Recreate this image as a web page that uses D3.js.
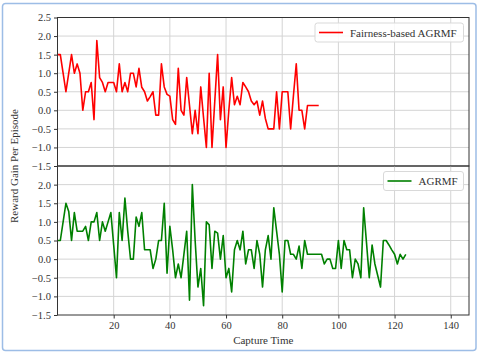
<!DOCTYPE html>
<html>
<head>
<meta charset="utf-8">
<script src="https://cdn.jsdelivr.net/npm/d3@7"></script>
<style>
body { margin: 0; background: #fff; }
svg { display: block; }
text { font-family: "Liberation Serif", "Times New Roman", serif; }
</style>
</head>
<body>
<svg></svg>
<script>
// series values (one point per capture)
var fairnessAgrmf = [1.5, 1.5, 1.0, 0.5, 1.0, 1.5, 1.0, 1.25, 1.0, 0.0,
    0.5, 0.5, 0.75, -0.25, 1.88, 0.88, 0.75, 0.5, 0.75, 0.75,
    0.75, 0.5, 1.25, 0.5, 0.75, 0.5, 1.0, 1.0, 0.63, 1.13,
    0.62, 0.5, 0.25, 0.37, 0.5, -0.13, -0.13, 1.25, 0.63, 0.43,
    0.38, -0.25, -0.38, 1.13, 0.0, -0.13, 0.88, 0.13, -0.63, 0.0,
    -0.63, 0.63, -0.2, -1.0, 1.0, -1.0, 0.25, 1.5, -0.25, 0.63,
    -1.0, 0.0, 0.88, 0.15, 0.38, 0.15, 0.75, 0.63, 0.5, 0.25,
    0.15, 0.25, -0.13, 0.25, -0.22, -0.5, -0.5, -0.5, 0.5, -0.5,
    0.5, 0.5, 0.5, -0.5, 0.4, 1.25, 0.0, 0.0, -0.5, 0.13,
    0.13, 0.13, 0.13, 0.13];

var agrmf = [0.5, 0.5, 1.0, 1.5, 1.28, 0.5, 1.25, 0.75, 0.75, 0.75,
    0.88, 0.5, 1.0, 1.0, 1.25, 0.5, 1.0, 0.75, 1.0, 1.25,
    0.38, -0.5, 1.25, 0.5, 1.64, 0.75, 0.0, 0.0, 1.13, 0.88,
    1.25, 0.25, 0.25, 0.25, -0.25, 0.0, 0.5, 0.5, 1.5, -0.38,
    0.88, 0.25, -0.5, -0.13, -0.5, 0.13, 0.75, -1.1, 2.0, 0.5,
    -0.75, -0.25, -1.25, 1.0, 0.92, -0.25, 0.75, 0.7, 0.0, 0.63,
    -0.5, -0.25, -0.88, 0.25, 0.5, 0.25, 0.75, -0.13, 0.25, 0.25,
    -0.25, 0.5, 0.13, -0.75, 0.25, 0.63, 0.0, 1.38, 0.75, 0.13,
    -0.88, 0.5, 0.5, 0.13, 0.13, 0.0, 0.35, -0.25, 0.5, 0.13,
    0.13, 0.13, 0.13, 0.13, 0.13, -0.13, 0.0, 0.0, -0.25, -0.25,
    0.5, -0.25, 0.5, 0.25, 0.25, -0.5, 0.0, -0.13, -0.5, 1.38,
    0.45, -0.5, 0.38, -0.13, -0.44, -0.75, 0.5, 0.5, 0.38, 0.25,
    0.13, -0.13, 0.13, 0.0, 0.13];

var seriesNames = ["Fairness-based AGRMF", "AGRMF"];
var seriesColors = ["#ff0000", "#008000"];
var xTicks = [20, 40, 60, 80, 100, 120, 140];
var yTicksTop = [2.5, 2.0, 1.5, 1.0, 0.5, 0.0, -0.5, -1.0, -1.5];
var yTicksBottom = [2.0, 1.5, 1.0, 0.5, 0.0, -0.5, -1.0, -1.5];
var yGrid = [2.0, 1.5, 1.0, 0.5, 0.0, -0.5, -1.0];

var WIDTH = 480, HEIGHT = 353;
var plotLeft = 57.5, plotRight = 469, plotTop = 17.5, plotMid = 166, plotBottom = 315;

var svg = d3.select("svg")
    .attr("width", WIDTH)
    .attr("height", HEIGHT);

// outer frame
svg.append("rect")
    .attr("x", 2.5).attr("y", 3.5)
    .attr("width", 473.5).attr("height", 347)
    .attr("rx", 3)
    .attr("fill", "#fff")
    .attr("stroke", "#9dbde6")
    .attr("stroke-width", 1.5);

var x = d3.scaleLinear().domain([0, 146.5]).range([plotLeft, plotRight]);

var panels = [
    { data: fairnessAgrmf, y0: plotTop, y1: plotMid, ticks: yTicksTop, name: seriesNames[0], color: seriesColors[0], bottomAxis: false },
    { data: agrmf, y0: plotMid, y1: plotBottom, ticks: yTicksBottom, name: seriesNames[1], color: seriesColors[1], bottomAxis: true }
];

panels.forEach(function (p) {
    var y = d3.scaleLinear().domain([-1.5, 2.5]).range([p.y1, p.y0]);
    var g = svg.append("g");

    // grid
    g.selectAll(".hgrid")
        .data(yGrid)
        .enter().append("line")
        .attr("x1", plotLeft).attr("x2", plotRight)
        .attr("y1", function (d) { return y(d); })
        .attr("y2", function (d) { return y(d); })
        .attr("stroke", "#d4d4d4")
        .attr("stroke-width", 1);
    g.selectAll(".vgrid")
        .data(xTicks)
        .enter().append("line")
        .attr("x1", function (d) { return x(d); })
        .attr("x2", function (d) { return x(d); })
        .attr("y1", p.y0).attr("y2", p.y1)
        .attr("stroke", "#d4d4d4")
        .attr("stroke-width", 1);

    // series line
    var line = d3.line()
        .x(function (d, i) { return x(i); })
        .y(function (d) { return y(d); });
    g.append("path")
        .datum(p.data)
        .attr("d", line)
        .attr("fill", "none")
        .attr("stroke", p.color)
        .attr("stroke-width", 1.6)
        .attr("stroke-linejoin", "round");

    // y axis
    var yAxis = d3.axisLeft(y)
        .tickValues(p.ticks)
        .tickFormat(d3.format(".1f"))
        .tickSize(3.5)
        .tickPadding(3);
    var ya = g.append("g")
        .attr("transform", "translate(" + plotLeft + ",0)")
        .call(yAxis);
    ya.select(".domain").remove();
    ya.selectAll("text").attr("font-size", "10.5px").attr("fill", "#333");
    ya.selectAll("line").attr("stroke", "#333");

    if (p.bottomAxis) {
        var xAxis = d3.axisBottom(x)
            .tickValues(xTicks)
            .tickFormat(d3.format("d"))
            .tickSize(3.5)
            .tickPadding(3);
        var xa = g.append("g")
            .attr("transform", "translate(0," + plotBottom + ")")
            .call(xAxis);
        xa.select(".domain").remove();
        xa.selectAll("text").attr("font-size", "10.5px").attr("fill", "#333");
        xa.selectAll("line").attr("stroke", "#333");
    }

    // frame
    g.append("rect")
        .attr("x", plotLeft).attr("y", p.y0)
        .attr("width", plotRight - plotLeft).attr("height", p.y1 - p.y0)
        .attr("fill", "none")
        .attr("stroke", "#333")
        .attr("stroke-width", 1);

    // legend
    var lw = p.bottomAxis ? 80 : 148.5;
    var lx = 463.5 - lw, ly = p.y0 + 5.5;
    var lg = g.append("g").attr("transform", "translate(" + lx + "," + ly + ")");
    lg.append("rect")
        .attr("width", lw).attr("height", 19)
        .attr("rx", 2.5)
        .attr("fill", "#fff").attr("fill-opacity", 0.85)
        .attr("stroke", "#d9d9d9");
    lg.append("line")
        .attr("x1", 4).attr("x2", 28)
        .attr("y1", 9.5).attr("y2", 9.5)
        .attr("stroke", p.color).attr("stroke-width", 1.6);
    lg.append("text")
        .attr("x", 35).attr("y", 13.5)
        .attr("font-size", "11px")
        .attr("fill", "#333")
        .text(p.name);
});

// axis labels
svg.append("text")
    .attr("x", (plotLeft + plotRight) / 2).attr("y", 344)
    .attr("text-anchor", "middle")
    .attr("font-size", "11px")
    .attr("fill", "#333")
    .text("Capture Time");

svg.append("text")
    .attr("transform", "translate(18," + plotMid + ") rotate(-90)")
    .attr("text-anchor", "middle")
    .attr("font-size", "11px")
    .attr("fill", "#333")
    .text("Reward Gain Per Episode");
</script>
</body>
</html>
